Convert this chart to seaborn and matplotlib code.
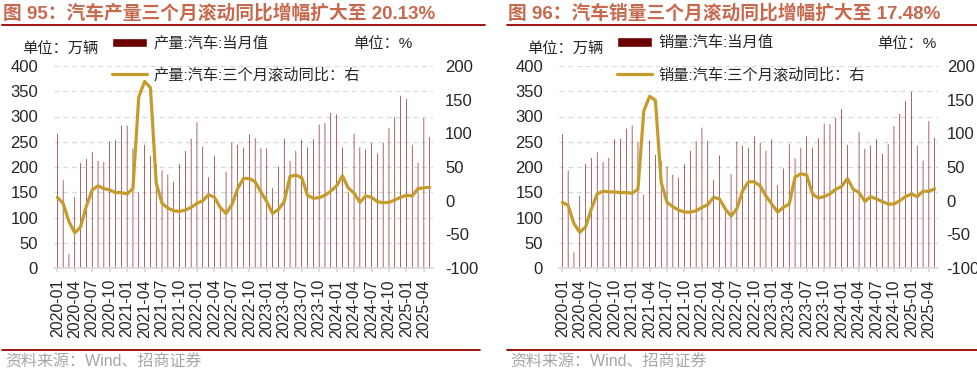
import matplotlib
matplotlib.use("Agg")
import matplotlib.pyplot as plt
from matplotlib.lines import Line2D
from matplotlib.patches import Patch
import numpy as np
import pandas as pd
import seaborn as sns

sns.set_theme(style="white")
plt.rcParams["font.family"] = ["Liberation Sans", "Noto Sans CJK SC"]
plt.rcParams["axes.unicode_minus"] = False

BAR_RED = "#6B0000"
GOLD = "#C59B2C"
TITLE_RED = "#C8694E"
RULE_RED = "#990000"
GREY = "#A6A6A6"
GRID = "#D9D9D9"

W, H = 978, 375

months = pd.date_range("2020-01", periods=65, freq="MS").strftime("%Y-%m").tolist()

# 产量:汽车:当月值 (万辆)
production = [266, 174, 28, 141, 208, 216, 230, 212, 210, 250, 253, 282, 282,
              237, 150, 244, 222, 205, 193, 185, 171, 206, 232, 256, 289,
              240, 180, 222, 121, 191, 248, 244, 238, 265, 257, 237, 237,
              158, 201, 256, 212, 232, 254, 239, 255, 284, 287, 307, 304,
              239, 150, 266, 239, 235, 248, 227, 248, 277, 299, 341, 335,
              243, 208, 297, 259]
# 产量:汽车:三个月滚动同比 (%)
production_yoy = [5, -4, -31, -48, -39, -8, 16, 22, 18, 16, 12, 12, 10,
                  18, 154, 177, 168, 26, -4, -11, -15, -16, -14, -10, -4,
                  0, 9, 5, -10, -19, -6, 18, 33, 33, 28, 13, -1.5,
                  -19, -13, -1.5, 36, 38, 34, 8, 3.5, 4.5, 8, 14, 22,
                  37, 19, 11, -2.5, 7, 5, -1.5, -3, -2.5, 1, 5, 8,
                  7, 18, 19, 20.13]

# 销量:汽车:当月值 (万辆)
sales = [265, 193, 31, 143, 206, 218, 229, 210, 218, 255, 256, 276, 282,
         250, 145, 252, 224, 212, 201, 185, 179, 206, 232, 251, 278,
         252, 174, 223, 118, 186, 250, 242, 238, 261, 248, 232, 255,
         164, 197, 245, 217, 238, 261, 238, 257, 286, 285, 297, 315,
         244, 158, 269, 236, 242, 255, 226, 245, 281, 305, 331, 349,
         242, 213, 291, 258]
# 销量:汽车:三个月滚动同比 (%)
sales_yoy = [-2.5, -7, -34, -47, -39, -12, 10, 14, 13, 13, 12, 12, 11,
             17, 133, 155, 149, 27, -2.5, -9, -14, -17, -17, -15, -10,
             -6, 5, 2.5, -12, -23, -12, 15, 28, 28, 22, 7, -5,
             -17, -10, -5, 35, 40, 38, 10, 4, 6, 10, 17, 21,
             33, 17, 12, -1, 6, 2.5, -1.5, -5, -5, 0, 6, 10,
             6, 14, 14, 17.48]


def fx(px):
    return px / W


def fy(py):
    return 1 - py / H


def draw_panel(fig, x0, pct_x, right_pad, bars, yoy, bar_label, line_label, title):
    ax = fig.add_axes([fx(x0 + 49.4), fy(268), fx(378.2), fy(66) - fy(268)])
    # very thin, unsnapped bars so they anti-alias like the original
    sns.barplot(x=months, y=bars, color=BAR_RED, width=0.1, saturation=1,
                linewidth=0, snap=False, ax=ax)
    ax.set_ylim(0, 400)
    ax.set_yticks(range(0, 401, 50))
    ax.yaxis.grid(True, color=GRID, linestyle=(0, (4, 3)), linewidth=0.9)
    ax.set_axisbelow(True)
    ax.set_xlabel("")
    ax.set_ylabel("")

    ax2 = ax.twinx()
    sns.lineplot(x=np.arange(len(yoy)), y=yoy, color=GOLD, linewidth=2.3, ax=ax2)
    ax2.set_ylim(-100, 200)
    ax2.set_yticks(range(-100, 201, 50))
    ax2.set_ylabel("")
    ax2.grid(False)

    ax.set_xlim(-0.5, len(months) - 0.5)
    ax.set_xticks(range(0, len(months), 3))
    ax.set_xticklabels(months[::3], rotation=90, fontsize=11.5)
    ax.tick_params(axis="x", length=3, color=GRID, pad=5, bottom=True)
    ax.tick_params(axis="y", length=0, pad=11.8, labelsize=12)
    ax2.tick_params(axis="y", length=0, pad=right_pad, labelsize=12)

    for s in ax.spines.values():
        s.set_visible(False)
    for s in ax2.spines.values():
        s.set_visible(False)
    ax.spines["bottom"].set_visible(True)
    ax.spines["bottom"].set_color(GRID)

    handles = [Patch(facecolor=BAR_RED, label=bar_label),
               Line2D([], [], color=GOLD, lw=2.3, label=line_label)]
    ax2.legend(handles=handles, loc="upper left",
               bbox_to_anchor=(fx(x0 + 107), fy(36)), bbox_transform=fig.transFigure,
               frameon=False, fontsize=11, handlelength=2.3, handleheight=0.55,
               handletextpad=0.4, labelspacing=1.1, borderpad=0, borderaxespad=0)

    fig.text(fx(x0 + 17), fy(50), "单位：万辆", fontsize=11, va="center")
    fig.text(fx(pct_x), fy(44), "单位：%", fontsize=11, va="center")

    fig.text(fx(x0 - 2), fy(13.5), title, color=TITLE_RED, fontsize=13.5,
             weight="bold", va="center")
    fig.add_artist(Line2D([fx(x0 - 3), fx(x0 + 480)], [fy(25)] * 2,
                          color=RULE_RED, lw=1.3))
    fig.add_artist(Line2D([fx(x0 - 3), fx(x0 + 475)], [fy(349.5)] * 2,
                          color=RULE_RED, lw=1.3))
    fig.text(fx(x0), fy(362), "资料来源：Wind、招商证券", color=GREY, fontsize=11.5,
             va="center")


def main():
    fig = plt.figure(figsize=(W / 100, H / 100), dpi=100)
    draw_panel(fig, 5, 353, 8.9, production, production_yoy,
               "产量:汽车:当月值", "产量:汽车:三个月滚动同比：右",
               "图 95：汽车产量三个月滚动同比增幅扩大至 20.13%")
    draw_panel(fig, 510, 877, 6.5, sales, sales_yoy,
               "销量:汽车:当月值", "销量:汽车:三个月滚动同比：右",
               "图 96：汽车销量三个月滚动同比增幅扩大至 17.48%")
    fig.savefig("out.png", dpi=100)


if __name__ == "__main__":
    main()
